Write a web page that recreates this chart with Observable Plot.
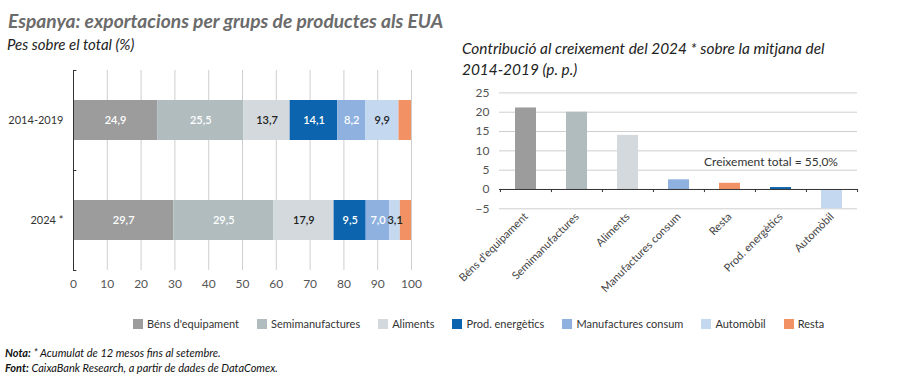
<!DOCTYPE html>
<html><head><meta charset="utf-8">
<script src="https://cdn.jsdelivr.net/npm/d3@7"></script>
<script src="https://cdn.jsdelivr.net/npm/@observablehq/plot@0.6"></script>
<style>
body{margin:0;width:900px;height:388px;position:relative;background:#fff;font-family:Lato,"Open Sans",sans-serif;overflow:hidden;color:#222}
.abs{position:absolute;white-space:nowrap}
#title{left:8px;top:11px;font-size:19.2px;line-height:1;font-weight:700;font-style:italic;color:#6b6b6b}
#sub1{left:7px;top:37px;font-size:15px;line-height:1;font-style:italic}
#sub2{left:462px;top:38px;font-size:15.4px;line-height:21px;font-style:italic}
#left{left:0;top:60px}
#right{left:450px;top:80px}
#legend{left:133px;top:317px;display:flex;gap:18px;font-size:11px;color:#333;align-items:center}
#legend .it{display:flex;align-items:center;gap:4px}
#legend .sw{width:10px;height:10px;display:inline-block}
#foot{left:5px;top:345px;font-size:11px;line-height:15px;font-style:italic;color:#111}
</style></head>
<body>
<div id="title" class="abs"></div>
<div id="sub1" class="abs"></div>
<div id="sub2" class="abs"></div>
<div id="left" class="abs"></div>
<div id="right" class="abs"></div>
<div id="legend" class="abs"></div>
<div id="foot" class="abs"></div>
<script>
// ---- data ----
const titleText = "Espanya: exportacions per grups de productes als EUA";
const leftSubtitle = "Pes sobre el total (%)";
const rightSubtitleLines = ["Contribució al creixement del 2024 * sobre la mitjana del", "2014-2019 (p. p.)"];
const categories = ["Béns d'equipament","Semimanufactures","Aliments","Prod. energètics","Manufactures consum","Automòbil","Resta"];
const categoryColors = ["#9c9c9c","#b1bcbf","#d3d9dc","#0b64ad","#8eb1df","#c4d8f0","#f29163"];
const periods = ["2014-2019","2024 *"];
const shares2014_2019 = [24.9,25.5,13.7,14.1,8.2,9.9,3.7];
const shares2024 = [29.7,29.5,17.9,9.5,7.0,3.1,3.3];
const darkLabelCategories = ["Aliments","Automòbil"];
const unlabeledCategories = ["Resta"];
const shareTicks = [0,10,20,30,40,50,60,70,80,90,100];
const contribCategories = ["Béns d'equipament","Semimanufactures","Aliments","Manufactures consum","Resta","Prod. energètics","Automòbil"];
const contribValues = [21.1,20.0,14.0,2.5,1.6,0.5,-5.0];
const contribTicks = [-5,0,5,10,15,20,25];
const totalGrowthLabel = "Creixement total = 55,0%";
const totalGrowthAnchor = {cat: "Prod. energètics", value: 7};
const notes = [["Nota:", " * Acumulat de 12 mesos fins al setembre."],["Font:", " CaixaBank Research, a partir de dades de DataComex."]];

// ---- text ----
document.getElementById("title").textContent = titleText;
document.getElementById("sub1").textContent = leftSubtitle;
document.getElementById("sub2").innerHTML = rightSubtitleLines.join("<br>");
document.getElementById("foot").innerHTML = notes.map(([b,t]) => `<b>${b}</b>${t}`).join("<br>");
document.getElementById("legend").innerHTML = categories.map((c,i) =>
  `<span class="it"><span class="sw" style="background:${categoryColors[i]}"></span>${c}</span>`).join("");

const fmt = v => v.toFixed(1).replace(".", ",");
const shares = [];
[shares2014_2019, shares2024].forEach((arr, p) => arr.forEach((v, i) => shares.push({period: periods[p], cat: categories[i], value: v})));
const labelText = dark => d => (unlabeledCategories.includes(d.cat) || darkLabelCategories.includes(d.cat) !== dark) ? "" : fmt(d.value);
const font = "Lato, 'Open Sans', sans-serif";

const left = Plot.plot({
  width: 430, height: 240, marginLeft: 73, marginRight: 19, marginTop: 10, marginBottom: 30,
  style: {fontFamily: font, fontSize: "12px", color: "#333", background: "transparent"},
  x: {domain: [0, 100]},
  y: {domain: periods, paddingInner: 0.6, paddingOuter: 0.3},
  color: {domain: categories, range: categoryColors},
  marks: [
    Plot.gridX(shareTicks.slice(1), {stroke: "#cfcfcf", strokeOpacity: 1}),
    Plot.barX(shares, {x: "value", y: "period", fill: "cat"}),
    Plot.text(shares, Plot.stackX({x: "value", y: "period", z: "cat", text: labelText(false), fill: "white", fontSize: 11, fontWeight: 600})),
    Plot.text(shares, Plot.stackX({x: "value", y: "period", z: "cat", text: labelText(true), fill: "#222", fontSize: 11, fontWeight: 600})),
    Plot.ruleX([0], {stroke: "#333"}),
    Plot.ruleY(periods, {y: d => d, x1: 0, x2: 1, dy: -50, stroke: "#333"}),
    Plot.ruleY(periods.slice(-1), {y: d => d, x1: 0, x2: 1, dy: 50, stroke: "#333"}),
    Plot.axisX(shareTicks, {tickSize: 0, tickPadding: 9, label: null, fill: "#555", fontSize: 12}),
    Plot.axisY({tickSize: 0, tickPadding: 10, label: null, fill: "#333", fontSize: 11})
  ]
});
document.getElementById("left").appendChild(left);

const contrib = contribCategories.map((c, i) => ({cat: c, value: contribValues[i]}));
const right = Plot.plot({
  width: 450, height: 230, marginLeft: 49, marginRight: 43, marginTop: 12.4, marginBottom: 101.7,
  style: {fontFamily: font, fontSize: "12px", color: "#333", background: "transparent"},
  x: {domain: contribCategories, paddingInner: 0.59, paddingOuter: 0.295},
  y: {domain: [-5, 25]},
  color: {domain: categories, range: categoryColors},
  marks: [
    Plot.gridY(contribTicks.filter(t => t !== 0), {stroke: "#cfcfcf", strokeOpacity: 1}),
    Plot.barY(contrib, {x: "cat", y: "value", fill: "cat"}),
    Plot.ruleY([0], {stroke: "#333"}),
    Plot.ruleX(contribCategories, {x: d => d, y1: 0, y2: -0.8, dx: -25.55, stroke: "#333"}),
    Plot.ruleX(contribCategories.slice(-1), {x: d => d, y1: 0, y2: -0.8, dx: 25.55, stroke: "#333"}),
    Plot.text([totalGrowthAnchor], {x: "cat", y: "value", text: () => totalGrowthLabel, dx: -10, fontSize: 12, fill: "#333"}),
    Plot.axisY(contribTicks, {tickSize: 0, tickPadding: 10, label: null, fill: "#555", fontSize: 12}),
    Plot.axisX({tickSize: 0, tickPadding: 6, tickRotate: -45, label: null, fill: "#444", fontSize: 11})
  ]
});
document.getElementById("right").appendChild(right);
</script>
</body></html>
